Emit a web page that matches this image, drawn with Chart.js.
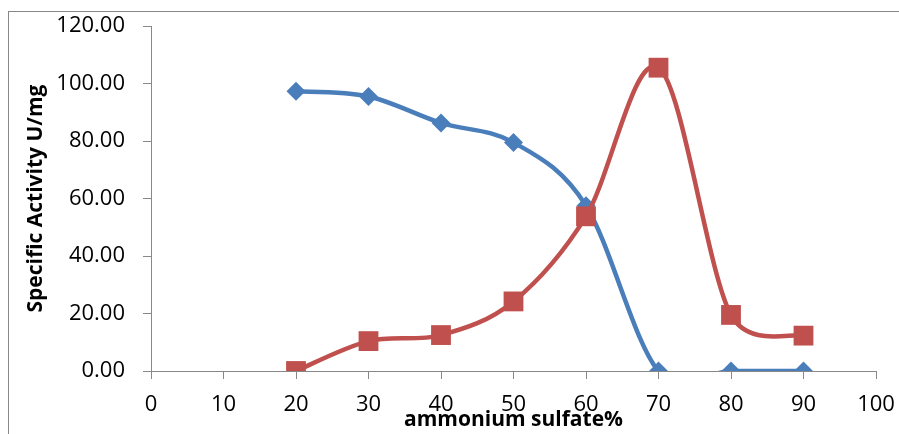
<!DOCTYPE html>
<html>
<head>
<meta charset="utf-8">
<script src="https://cdn.jsdelivr.net/npm/chart.js@4/dist/chart.umd.min.js"></script>
<style>
  html, body { margin: 0; padding: 0; background: #fff; overflow: hidden; }
  #frame { position: absolute; left: 8px; top: 11px; width: 1000px; height: 1000px; border: 1px solid #888; }
  #wrap { position: absolute; left: 0; top: 0; width: 899px; height: 434px; }
</style>
</head>
<body>
<div id="frame"></div>
<div id="wrap"><canvas id="chart" width="899" height="434"></canvas></div>
<script>
// ammonium sulfate saturation (%)
const saturation = [20, 30, 40, 50, 60, 70, 80, 90];
// specific activity, U/mg
const seriesBlue = [97.3, 95.5, 86.3, 79.5, 57.5, 0, 0, 0];
const seriesRed = [0, 10.4, 12.5, 24.2, 53.8, 105.5, 19.5, 12.3];

const xTitle = 'ammonium sulfate%';
const yTitle = 'Specific Activity U/mg';

const toPoints = (vals) => saturation.map((x, i) => ({ x: x, y: vals[i] }));

const axisGray = '#888888';
const tickFont = { family: 'Open Sans', size: 22 };
const titleFont = { family: 'Open Sans', size: 21, weight: 'bold' };

// spreadsheet-style smoothing: 1/6 tangents, arm capped at half the segment
function arm(a, b, c, seg) {
  const d = Math.hypot(c.x - a.x, c.y - a.y);
  if (!d) return 0;
  return d / 6 < seg / 2 ? 1 / 6 : seg / (2 * d);
}

const smoothPlugin = {
  id: 'smooth',
  beforeDatasetDraw(chart, args) {
    const meta = args.meta;
    const pts = meta.data;
    const n = pts.length;
    for (let i = 0; i < n - 1; i++) {
      const a = pts[i], b = pts[i + 1];
      const p0 = pts[Math.max(i - 1, 0)];
      const p3 = pts[Math.min(i + 2, n - 1)];
      const seg = Math.hypot(b.x - a.x, b.y - a.y);
      const fa = arm(p0, a, b, seg);
      const fb = arm(a, b, p3, seg);
      a.cp2x = a.x + fa * (b.x - p0.x);
      a.cp2y = a.y + fa * (b.y - p0.y);
      b.cp1x = b.x - fb * (p3.x - a.x);
      b.cp1y = b.y - fb * (p3.y - a.y);
    }
    meta.dataset._pointsUpdated = true;
    meta.dataset._path = undefined;
  }
};

new Chart(document.getElementById('chart').getContext('2d'), {
  type: 'line',
  data: {
    datasets: [
      {
        label: 'Series1',
        data: toPoints(seriesBlue),
        borderColor: '#4A7EBB',
        backgroundColor: '#4A7EBB',
        borderWidth: 4.5,
        pointStyle: 'rectRot',
        pointRadius: 9.5,
        pointBorderWidth: 0,
        tension: 0.4,
        order: 1
      },
      {
        label: 'Series2',
        data: toPoints(seriesRed),
        borderColor: '#C0504D',
        backgroundColor: '#C0504D',
        borderWidth: 4.5,
        pointStyle: 'rect',
        pointRadius: 14,
        pointBorderWidth: 0,
        tension: 0.4,
        order: 0
      }
    ]
  },
  plugins: [smoothPlugin],
  options: {
    responsive: false,
    animation: false,
    layout: { padding: { top: 26, right: 23, bottom: 0, left: 0 } },
    elements: { line: { capBezierPoints: false } },
    plugins: {
      legend: { display: false },
      tooltip: { enabled: false }
    },
    scales: {
      x: {
        type: 'linear',
        min: 0,
        max: 100,
        afterFit: function (scale) {
          scale.height = 63;
          scale.paddingLeft = 0;
          scale.paddingRight = 0;
        },
        border: { color: axisGray, width: 1 },
        grid: { drawOnChartArea: false, drawTicks: true, tickLength: 8, color: axisGray },
        ticks: { stepSize: 10, color: '#000', font: tickFont, padding: 13, maxRotation: 0 },
        title: { display: true, text: xTitle, color: '#000', font: titleFont, padding: { top: 0, bottom: 1 } }
      },
      y: {
        min: 0,
        max: 120,
        afterFit: function (scale) {
          scale.width = 151;
          scale.paddingTop = 0;
          scale.paddingBottom = 0;
        },
        border: { color: axisGray, width: 1 },
        grid: { drawOnChartArea: false, drawTicks: true, tickLength: 8, color: axisGray },
        ticks: {
          stepSize: 20,
          color: '#000',
          font: tickFont,
          padding: 18,
          callback: function (value) { return value.toFixed(2); }
        },
        title: { display: true, text: yTitle, color: '#000', font: titleFont, padding: { top: 23, bottom: 0 } }
      }
    }
  }
});
</script>
</body>
</html>
